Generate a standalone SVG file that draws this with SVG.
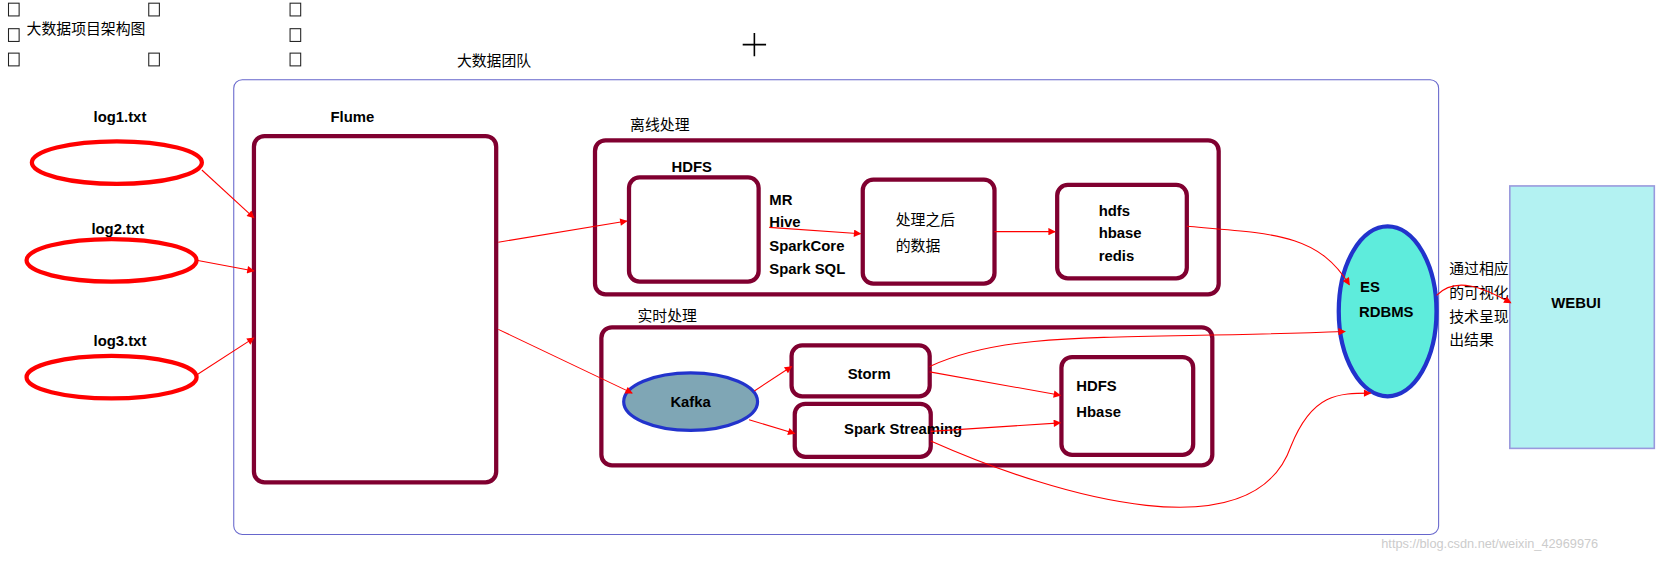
<svg xmlns="http://www.w3.org/2000/svg" width="1666" height="562" viewBox="0 0 1666 562">
<style>
text{font-family:"Liberation Sans","Noto Sans CJK SC",sans-serif;font-size:14px;fill:#000}
.b{font-weight:bold}
.box{fill:#fff;stroke:#800030;stroke-width:4}
.log{fill:#fff;stroke:#f00;stroke-width:4}
.cb{fill:#fff;stroke:#222;stroke-width:1}
.c{fill:none;stroke:#f00;stroke-width:1;marker-end:url(#a)}
</style>
<defs><marker id="a" viewBox="0 0 10 10" refX="9" refY="5" markerWidth="9" markerHeight="7" orient="auto" markerUnits="userSpaceOnUse"><path d="M0,0L10,5L0,10z" fill="#f00"/></marker></defs>
<rect width="1666" height="562" fill="#fff"/>
<g transform="scale(1.0625)">
<g id="checkboxes">
<rect class="cb" x="8" y="3" width="10" height="12"/><rect class="cb" x="140" y="3" width="10" height="12"/><rect class="cb" x="273" y="3" width="10" height="12"/>
<rect class="cb" x="8" y="27" width="10" height="12"/><rect class="cb" x="273" y="27" width="10" height="12"/>
<rect class="cb" x="8" y="50" width="10" height="12"/><rect class="cb" x="140" y="50" width="10" height="12"/><rect class="cb" x="273" y="50" width="10" height="12"/>
</g>
<text x="25" y="32">大数据项目架构图</text>
<text x="430" y="62">大数据团队</text>
<path d="M699,42H721M710,31V53" stroke="#000" stroke-width="1.5"/>
<g id="team"><rect x="220" y="75" width="1134" height="428" rx="8" fill="none" stroke="#6666cc" stroke-width="1"/></g>
<g id="log1"><text class="b" x="88" y="115">log1.txt</text><ellipse class="log" cx="110" cy="153" rx="80" ry="20"/></g>
<g id="log2"><text class="b" x="86" y="220">log2.txt</text><ellipse class="log" cx="105" cy="245" rx="80" ry="20"/></g>
<g id="log3"><text class="b" x="88" y="326">log3.txt</text><ellipse class="log" cx="105" cy="355" rx="80" ry="20"/></g>
<g id="flume"><text class="b" x="311" y="115">Flume</text><rect class="box" x="239" y="128" width="228" height="326" rx="10"/></g>
<g id="offline"><text x="593" y="122">离线处理</text><rect class="box" x="560" y="132" width="587" height="145" rx="10"/></g>
<g id="hdfs1"><text class="b" x="632" y="162">HDFS</text><rect class="box" x="592" y="167" width="122" height="98" rx="10"/></g>
<g id="ops"><text class="b" x="724" y="193">MR</text><text class="b" x="724" y="214">Hive</text><text class="b" x="724" y="236">SparkCore</text><text class="b" x="724" y="258">Spark SQL</text></g>
<g id="processed"><rect class="box" x="812" y="169" width="124" height="98" rx="10"/><text x="843" y="212">处理之后</text><text x="843" y="236">的数据</text></g>
<g id="store1"><rect class="box" x="995" y="174" width="122" height="88" rx="10"/><text class="b" x="1034" y="203">hdfs</text><text class="b" x="1034" y="224">hbase</text><text class="b" x="1034" y="246">redis</text></g>
<g id="realtime"><text x="600" y="302">实时处理</text><rect class="box" x="566" y="308" width="575" height="130" rx="10"/></g>
<g id="kafka"><ellipse cx="650" cy="378" rx="63" ry="27" fill="#7fa6b5" stroke="#2233cc" stroke-width="3"/><text class="b" x="650" y="383" text-anchor="middle">Kafka</text></g>
<g id="storm"><rect class="box" x="745" y="325" width="130" height="48" rx="10"/><text class="b" x="818" y="357" text-anchor="middle">Storm</text></g>
<g id="sparkstreaming"><rect class="box" x="748" y="380" width="128" height="50" rx="10"/><text class="b" x="850" y="408" text-anchor="middle">Spark Streaming</text></g>
<g id="store2"><rect class="box" x="999" y="336" width="124" height="92" rx="10"/><text class="b" x="1013" y="368">HDFS</text><text class="b" x="1013" y="392">Hbase</text></g>
<g id="es"><ellipse cx="1306" cy="293" rx="46" ry="80" fill="#5eecdc" stroke="#2233cc" stroke-width="4"/><text class="b" x="1280" y="275">ES</text><text class="b" x="1279" y="298">RDBMS</text></g>
<g id="note"><text x="1364" y="258">通过相应</text><text x="1364" y="280">的可视化</text><text x="1364" y="303">技术呈现</text><text x="1364" y="325">出结果</text></g>
<g id="webui"><rect x="1421" y="175" width="136" height="247" fill="#b3f2f2" stroke="#9999dd" stroke-width="1.5"/><text class="b" x="1460" y="290">WEBUI</text></g>
<g id="connectors">
<path class="c" d="M190,160L239,205"/>
<path class="c" d="M185,245L239,255"/>
<path class="c" d="M185,353L239,318"/>
<path class="c" d="M469,228L590,208"/>
<path class="c" d="M469,310L595,370"/>
<path class="c" d="M724,214L810,220"/>
<path class="c" d="M936,218L993,218"/>
<path class="c" d="M1117,213C1200,220 1240,220 1270,268"/>
<path class="c" d="M1352,278C1370,260 1395,270 1422,285"/>
<path class="c" d="M710,368L745,345"/>
<path class="c" d="M705,395L748,408"/>
<path class="c" d="M875,350L998,372"/>
<path class="c" d="M875,345C950,310 1050,320 1266,312"/>
<path class="c" d="M876,406L998,398"/>
<path class="c" d="M876,415C1000,470 1180,520 1215,420C1235,370 1260,370 1290,370"/>
</g>
<text x="1300" y="516" style="fill:#ccc;font-size:12px">https://blog.csdn.net/weixin_42969976</text>
</g>
</svg>
